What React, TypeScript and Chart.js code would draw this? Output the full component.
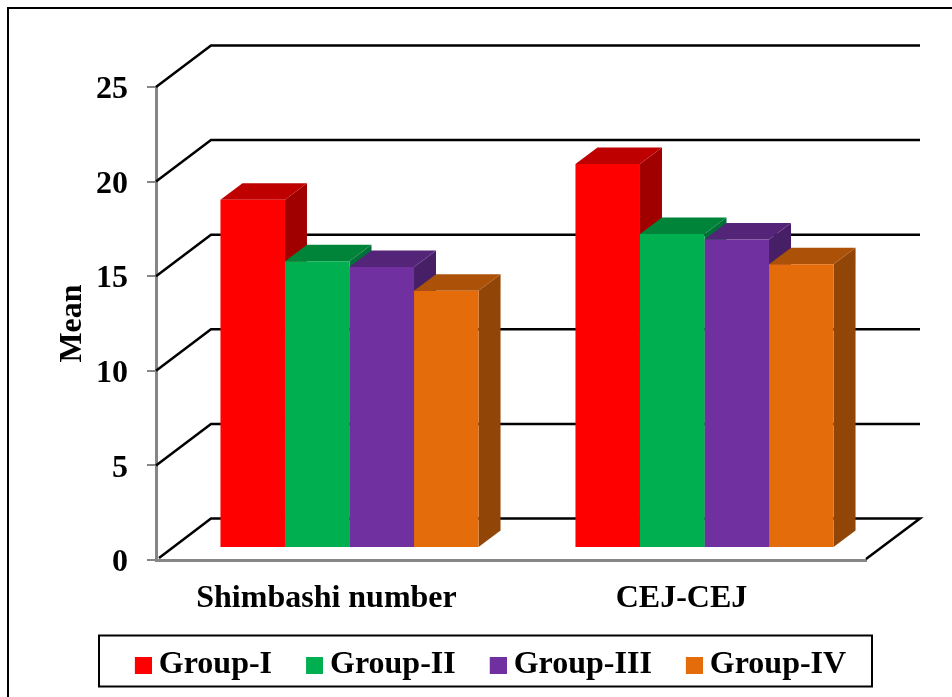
import React, { useEffect, useRef } from "react";
import { Chart, registerables } from "chart.js";

Chart.register(...registerables);

const categories = ["Shimbashi number", "CEJ-CEJ"];
const groupOne = [18.4, 20.3];
const groupTwo = [15.15, 16.6];
const groupThree = [14.85, 16.3];
const groupFour = [13.6, 15.0];
const groupNames = ["Group-I", "Group-II", "Group-III", "Group-IV"];
const frontColors = ["#FF0000", "#00B050", "#7030A0", "#E46C0A"];
const topColors = ["#BF0000", "#008439", "#542478", "#AB5108"];
const sideColors = ["#A00000", "#00703A", "#471F66", "#914507"];
const yTicks = [0, 5, 10, 15, 20, 25];

const FONT = "'Liberation Serif', 'Times New Roman', serif";
const WALL_DX = 55;
const WALL_DY = -41.5;
const BAR_SHIFT_X = 16;
const BAR_SHIFT_Y = -12;
const BAR_DEPTH_X = 22;
const BAR_DEPTH_Y = -16.5;

// Legend marker: a 17px square, set 1px right of the marker's centre.
const swatch = (color: string) => {
  const c = document.createElement("canvas");
  c.width = 19;
  c.height = 17;
  const g = c.getContext("2d")!;
  g.fillStyle = color;
  g.fillRect(2, 0, 17, 17);
  return c;
};

const polygon = (ctx: CanvasRenderingContext2D, pts: number[][], fill: string) => {
  ctx.beginPath();
  pts.forEach(([x, y], i) => (i ? ctx.lineTo(x, y) : ctx.moveTo(x, y)));
  ctx.closePath();
  ctx.fillStyle = fill;
  ctx.fill();
};

// Oblique box behind the bars, plus the side and top of every bar, left to right.
const box3d = {
  id: "box3d",
  afterLayout(chart: any) {
    // The legend row sits in its own frame, a little right of the page centre.
    chart.legend.left = 0;
    chart.legend.right = 988;
    chart.legend.top = 608;
  },
  beforeDatasetsDraw(chart: any) {
    const { ctx, chartArea, scales } = chart;
    const { left, right } = chartArea;
    ctx.save();
    ctx.strokeStyle = "#000";
    ctx.lineWidth = 2.5;
    ctx.lineJoin = "miter";
    scales.y.ticks.forEach((tick: any) => {
      const y = scales.y.getPixelForValue(tick.value);
      const startX = tick.value === 0 ? left + 3 : left;
      ctx.beginPath();
      ctx.moveTo(startX, tick.value === 0 ? y - 2 : y);
      ctx.lineTo(left + WALL_DX, y + WALL_DY);
      ctx.lineTo(right + WALL_DX - 1, y + WALL_DY);
      if (tick.value === 0) ctx.lineTo(right, y - 1);
      ctx.stroke();
    });
    ctx.translate(BAR_SHIFT_X, BAR_SHIFT_Y);
    const count = chart.data.datasets.length;
    for (let cat = 0; cat < categories.length; cat++) {
      for (let i = 0; i < count; i++) {
        const bar = chart.getDatasetMeta(i).data[cat];
        const { x, y, base, width } = bar.getProps(["x", "y", "base", "width"], true);
        const l = x - width / 2;
        const r = x + width / 2;
        polygon(ctx, [[r, y], [r + BAR_DEPTH_X, y + BAR_DEPTH_Y], [r + BAR_DEPTH_X, base + BAR_DEPTH_Y], [r, base]], sideColors[i]);
        polygon(ctx, [[l, y], [l + BAR_DEPTH_X, y + BAR_DEPTH_Y], [r + BAR_DEPTH_X, y + BAR_DEPTH_Y], [r, y]], topColors[i]);
      }
    }
    ctx.restore();
  },
  beforeDatasetDraw(chart: any) {
    chart.ctx.save();
    chart.ctx.translate(BAR_SHIFT_X, BAR_SHIFT_Y);
  },
  afterDatasetDraw(chart: any) {
    chart.ctx.restore();
  },
  afterDraw(chart: any) {
    const { ctx } = chart;
    ctx.save();
    ctx.strokeStyle = "#000";
    ctx.lineWidth = 2;
    ctx.strokeRect(8, 8, 960, 720);
    ctx.strokeRect(99, 635.5, 773, 51);
    ctx.restore();
  },
};

export default function App() {
  const ref = useRef<HTMLCanvasElement>(null);

  useEffect(() => {
    const values = [groupOne, groupTwo, groupThree, groupFour];
    const chart = new Chart(ref.current!, {
      type: "bar",
      data: {
        labels: categories,
        datasets: groupNames.map((label, i) => ({
          label,
          data: values[i],
          backgroundColor: frontColors[i],
          pointStyle: swatch(frontColors[i]),
          borderWidth: 0,
          clip: false as any,
          categoryPercentage: 0.727,
          barPercentage: 1,
        })),
      },
      options: {
        responsive: false,
        animation: false,
        layout: { padding: { left: 28, top: 87, right: 86, bottom: 0 } },
        plugins: {
          tooltip: { enabled: false },
          legend: {
            position: "bottom",
            labels: {
              color: "#000",
              font: { family: FONT, size: 32, weight: "bold" },
              usePointStyle: true,
              pointStyleWidth: 1,
              padding: 41,
              generateLabels: (c: any) =>
                c.data.datasets.map((d: any, i: number) => ({
                  text: d.label,
                  fillStyle: d.backgroundColor,
                  pointStyle: d.pointStyle,
                  fontColor: "#000",
                  lineWidth: 0,
                  datasetIndex: i,
                })),
            },
          },
        },
        scales: {
          x: {
            afterFit: (s: any) => { s.height = 54; },
            grid: { display: false },
            border: { color: "#868686", width: 3 },
            ticks: {
              color: "#000",
              font: { family: FONT, size: 32, weight: "bold" },
              maxRotation: 0,
              autoSkip: false,
              padding: 12,
              labelOffset: -7,
            },
          },
          y: {
            min: 0,
            max: 25,
            afterFit: (s: any) => { s.width = 128; },
            afterBuildTicks: (s: any) => { s.ticks = yTicks.map((value) => ({ value })); },
            grid: { drawOnChartArea: false, color: "#868686", lineWidth: 2, tickLength: 9 },
            border: { color: "#868686", width: 3 },
            ticks: {
              color: "#000",
              font: { family: FONT, size: 32, weight: "bold" },
              padding: 19,
              labelOffset: 3,
            },
            title: {
              display: true,
              text: "Mean",
              color: "#000",
              font: { family: FONT, size: 32, weight: "bold" },
              padding: { top: 26, bottom: 0 },
            },
          },
        },
      },
      plugins: [box3d],
    } as any);
    return () => chart.destroy();
  }, []);

  return (
    <div style={{ position: "absolute", left: 0, top: 0, width: 952, height: 697, background: "#fff" }}>
      <canvas ref={ref} width={952} height={697} style={{ display: "block" }} />
    </div>
  );
}
